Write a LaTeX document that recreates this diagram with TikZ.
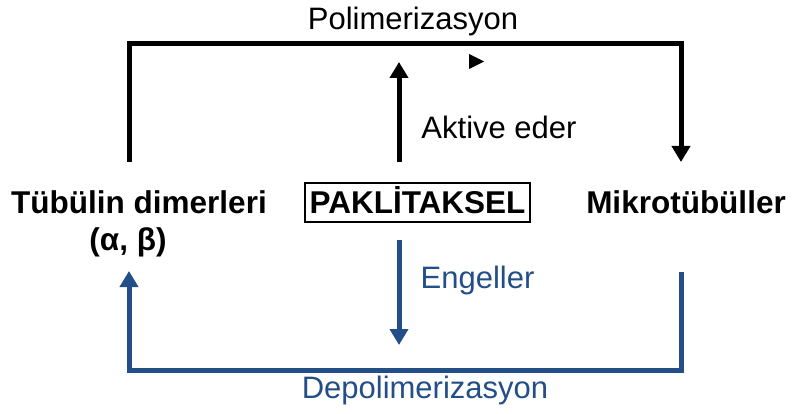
\documentclass[tikz,border=0pt]{standalone}
\usepackage{fontspec}
\setmainfont{Liberation Sans}
\usetikzlibrary{arrows.meta}
\definecolor{flowblue}{RGB}{35,78,135}
\tikzset{
  lbl/.style={font=\fontsize{31}{36}\selectfont, inner sep=0pt, anchor=base},
  blbl/.style={font=\fontsize{31.5}{36}\bfseries\selectfont, inner sep=0pt, anchor=base, align=center},
  flow/.style={line width=5pt, line join=miter, line cap=butt},
  tip/.style={-{Triangle[length=16pt,width=18pt]}},
}
\begin{document}
\begin{tikzpicture}[x=1pt,y=-1pt]
\useasboundingbox (0,0) rectangle (792,414);

% labels
\node[lbl] (poly) at (413,30) {Polimerizasyon};
\node[lbl] (akt) at (499,139) {Aktive eder};
\node[lbl, text=flowblue] (eng) at (477.5,288) {Engeller};
\node[lbl, text=flowblue] (depoly) at (425,398) {Depolimerizasyon};

\node[blbl] (tub) at (139,214) {Tübülin dimerleri};
\node[blbl] (ab) at (128,250) {(α, β)};
\node[blbl] (mikro) at (686,214) {Mikrotübüller};
\node[blbl, draw, line width=2pt, minimum width=225pt, text height=30pt, text depth=9pt] (pak) at (417.5,213) {PAKLİTAKSEL};

% anchor points of the connectors
\coordinate (lup) at (129,162);
\coordinate (ltop) at (129,44);
\coordinate (rtop) at (681,44);
\coordinate (rdown) at (681,162);
\coordinate (mlow) at (399,162);
\coordinate (mhigh) at (399,62);
\coordinate (bstart) at (399,240);
\coordinate (bend) at (399,345);
\coordinate (rblue) at (681,272);
\coordinate (rbot) at (681,370);
\coordinate (lbot) at (129,370);
\coordinate (lblue) at (129,271);

% polymerisation loop (black)
\draw[flow, tip] (lup) -- (ltop) -- (rtop) -- (rdown);
\fill (469,54) -- (484,61.5) -- (469,69) -- cycle;
\draw[flow, tip] (mlow) -- (mhigh);

% depolymerisation loop (blue)
\draw[flow, tip, flowblue] (bstart) -- (bend);
\draw[flow, tip, flowblue] (rblue) -- (rbot) -- (lbot) -- (lblue);
\end{tikzpicture}
\end{document}
